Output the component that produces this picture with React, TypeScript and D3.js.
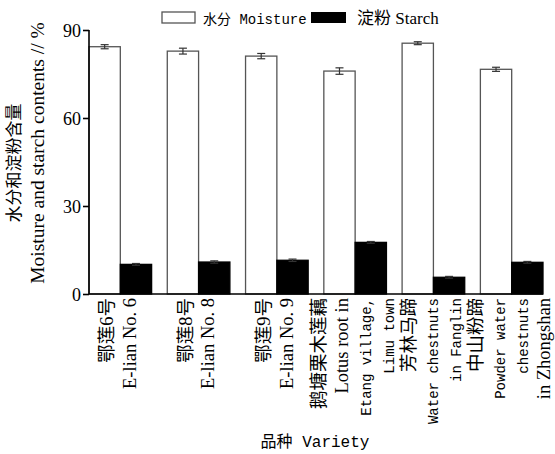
import React, { useEffect, useRef } from 'react';
import * as d3 from 'd3';

// values
const categories = ['E-lian No. 6', 'E-lian No. 8', 'E-lian No. 9', 'Etang', 'Fanglin', 'Zhongshan'];
const labelLines = [
  ['鄂莲6号', 'E-lian No. 6'],
  ['鄂莲8号', 'E-lian No. 8'],
  ['鄂莲9号', 'E-lian No. 9'],
  ['鹅塘栗木莲藕', 'Lotus root in', 'Etang village,', 'Limu town'],
  ['芳林马蹄', 'Water chestnuts', 'in Fanglin'],
  ['中山粉蹄', 'Powder water', 'chestnuts', 'in Zhongshan'],
];
const moisture = [84.3, 82.8, 81.1, 76.0, 85.5, 76.6];
const moistureErr = [0.7, 1.0, 0.9, 1.1, 0.5, 0.7];
const starch = [10.1, 10.9, 11.5, 17.6, 5.7, 10.8];
const starchErr = [0.3, 0.4, 0.4, 0.3, 0.3, 0.3];
const yTicks = [0, 30, 60, 90];

const serif = '"Liberation Serif", "Noto Sans CJK SC", serif';
const mono = '"Liberation Mono", "Noto Sans CJK SC", monospace';
const monoLines = new Set(['Etang village,', 'Limu town', 'Water chestnuts', 'in Fanglin', 'Powder water', 'chestnuts']);

export default function App() {
  const ref = useRef<SVGSVGElement>(null);

  useEffect(() => {
    const svg = d3.select(ref.current);
    svg.selectAll('*').remove();

    const left = 89, right = 543, top = 30, bottom = 294;
    const y = d3.scaleLinear().domain([0, 90]).range([bottom, top]);
    const x = d3.scaleBand().domain(categories).range([left, right]).paddingInner(0.2).paddingOuter(0);
    const sub = d3.scaleBand().domain(['m', 's']).range([0, x.bandwidth()]);

    const series = [
      { key: 'm', vals: moisture, errs: moistureErr, fill: '#fff', stroke: '#555' },
      { key: 's', vals: starch, errs: starchErr, fill: '#000', stroke: '#000' },
    ];

    series.forEach(s => {
      const g = svg.append('g');
      g.selectAll('rect')
        .data(s.vals)
        .enter()
        .append('rect')
        .attr('x', (d, i) => x(categories[i])! + sub(s.key)!)
        .attr('y', d => y(d))
        .attr('width', sub.bandwidth())
        .attr('height', d => y(0) - y(d))
        .attr('fill', s.fill)
        .attr('stroke', s.stroke)
        .attr('stroke-width', 1.3);

      const eb = svg.append('g').attr('stroke', '#333').attr('stroke-width', 1.2);
      s.vals.forEach((v, i) => {
        const cx = x(categories[i])! + sub(s.key)! + sub.bandwidth() / 2;
        const y1 = y(v + s.errs[i]);
        const y2 = y(v - s.errs[i]);
        eb.append('line').attr('x1', cx).attr('x2', cx).attr('y1', y1).attr('y2', y2);
        eb.append('line').attr('x1', cx - 4).attr('x2', cx + 4).attr('y1', y1).attr('y2', y1);
        eb.append('line').attr('x1', cx - 4).attr('x2', cx + 4).attr('y1', y2).attr('y2', y2);
      });
    });

    // y axis
    const yAxis = d3.axisLeft(y).tickValues(yTicks).tickSize(6).tickPadding(2);
    const ya = svg.append('g').attr('transform', `translate(${left},0)`).call(yAxis);
    ya.select('.domain').attr('stroke-width', 1.6).attr('d', `M0,${top}V${bottom}`);
    ya.selectAll('.tick line').attr('stroke-width', 1.6);
    ya.selectAll('.tick text')
      .attr('font-family', serif)
      .attr('font-size', 18)
      .attr('fill', '#000')
      .attr('dy', '0.36em');

    // x axis baseline
    svg.append('line')
      .attr('x1', left).attr('x2', right)
      .attr('y1', bottom).attr('y2', bottom)
      .attr('stroke', '#000').attr('stroke-width', 1.6);

    // category labels, rotated
    const spacing = 22.8;
    labelLines.forEach((lines, i) => {
      const cx = x(categories[i])! + x.bandwidth() / 2;
      lines.forEach((t, j) => {
        const lx = cx + (j - (lines.length - 1) / 2) * spacing + 4.5;
        const isMono = monoLines.has(t);
        svg.append('text')
          .attr('transform', `translate(${lx},${bottom + 4}) rotate(-90)`)
          .attr('text-anchor', 'end')
          .attr('font-family', isMono ? mono : serif)
          .attr('font-size', isMono ? 14 : 18.5)
          .text(t);
      });
    });

    // axis titles
    svg.append('text')
      .attr('transform', `translate(20,163) rotate(-90)`)
      .attr('text-anchor', 'middle')
      .attr('font-family', serif)
      .attr('font-size', 17)
      .text('水分和淀粉含量');
    svg.append('text')
      .attr('transform', `translate(44,153) rotate(-90)`)
      .attr('text-anchor', 'middle')
      .attr('font-family', serif)
      .attr('font-size', 19.5)
      .text('Moisture and starch contents // %');

    svg.append('text')
      .attr('x', 315).attr('y', 447)
      .attr('text-anchor', 'middle')
      .attr('font-family', mono)
      .attr('font-size', 16)
      .text('品种 Variety');

    // legend
    const lg = svg.append('g');
    lg.append('rect').attr('x', 162).attr('y', 12).attr('width', 33).attr('height', 11)
      .attr('fill', '#fff').attr('stroke', '#555').attr('stroke-width', 1.3);
    lg.append('text').attr('x', 203).attr('y', 23.5)
      .attr('font-family', mono).attr('font-size', 14).text('水分 Moisture');
    lg.append('rect').attr('x', 311).attr('y', 12).attr('width', 35).attr('height', 11)
      .attr('fill', '#000');
    lg.append('text').attr('x', 357).attr('y', 23.5)
      .attr('font-family', serif).attr('font-size', 17).text('淀粉 Starch');
  }, []);

  return (
    <svg ref={ref} width={555} height={454}
      style={{ position: 'absolute', left: 0, top: 0, background: '#fff' }} />
  );
}
